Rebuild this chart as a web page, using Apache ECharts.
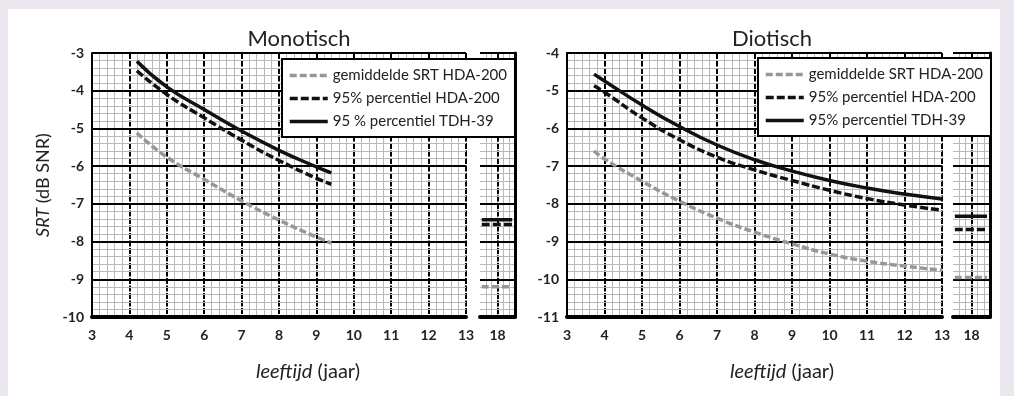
<!DOCTYPE html>
<html>
<head>
<meta charset="utf-8">
<script src="https://cdn.jsdelivr.net/npm/echarts@6/dist/echarts.min.js"></script>
<style>
  html, body { margin: 0; padding: 0; background: #ece7ef; }
  #chart { width: 1014px; height: 396px; }
</style>
</head>
<body>
<div id="chart"></div>
<script>
  // Monotisch (left panel)
  var monoAges = [4.2, 5, 6, 7, 8, 9, 9.4];
  var monoMeanHDA = [-5.12, -5.76, -6.35, -6.92, -7.43, -7.88, -8.04];
  var monoP95HDA = [-3.47, -4.1, -4.72, -5.31, -5.85, -6.32, -6.48];
  var monoP95TDH = [-3.22, -3.9, -4.5, -5.07, -5.58, -6.02, -6.18];

  // Diotisch (right panel)
  var dioAges = [3.72, 4, 5, 6, 7, 8, 9, 10, 11, 12, 13];
  var dioMeanHDA = [-6.6, -6.81, -7.4, -7.93, -8.38, -8.75, -9.06, -9.33, -9.52, -9.65, -9.76];
  var dioP95HDA = [-4.87, -5.04, -5.72, -6.3, -6.76, -7.1, -7.38, -7.64, -7.86, -8.03, -8.17];
  var dioP95TDH = [-4.56, -4.74, -5.38, -5.95, -6.44, -6.83, -7.13, -7.38, -7.58, -7.74, -7.87];

  // adults (18 jaar), drawn as short segments in the side panels
  var adultSpan = [17.55, 18.42];
  var monoAdult = { mean: -9.2, p95HDA: -7.55, p95TDH: -7.42 };
  var dioAdult = { mean: -9.95, p95HDA: -8.68, p95TDH: -8.33 };

  var monoNames = ['gemiddelde SRT HDA-200', '95% percentiel HDA-200', '95 % percentiel TDH-39'];
  var dioNames = ['gemiddelde SRT HDA-200', '95% percentiel HDA-200', '95% percentiel TDH-39'];

  var FONT = 'Lato';
  var TXT = '#222';
  var MINOR = '#b9b9b9';

  var styles = [
    { color: '#979797', width: 3.5, type: [7, 3] },
    { color: '#111', width: 3.5, type: [8, 3] },
    { color: '#111', width: 3.5, type: 'solid' }
  ];

  function pairs(xs, ys) {
    return xs.map(function(x, i) { return [x, ys[i]]; });
  }

  function lineSeries(name, style, data, xi, yi) {
    return {
      type: 'line',
      name: name,
      xAxisIndex: xi,
      yAxisIndex: yi,
      data: data,
      smooth: true,
      symbol: 'none',
      silent: true,
      lineStyle: { color: style.color, width: style.width, type: style.type },
      itemStyle: { color: style.color }
    };
  }

  var tickLabel = { color: TXT, fontFamily: FONT, fontSize: 14, fontWeight: 'bold' };

  function mainX(grid) {
    return {
      type: 'value', gridIndex: grid, min: 3, max: 13, interval: 1,
      axisLine: { show: true, onZero: false, lineStyle: { color: '#000', width: 4 } },
      axisTick: { show: false },
      axisLabel: Object.assign({ margin: 11 }, tickLabel),
      splitLine: { show: true, lineStyle: { color: '#000', width: 2, type: [6, 1.5] } },
      minorTick: { show: false, splitNumber: 5 },
      minorSplitLine: { show: true, lineStyle: { color: MINOR, width: 1 } }
    };
  }

  function sideX(grid) {
    return {
      type: 'value', gridIndex: grid, min: 17.5, max: 18.5, interval: 0.5, z: 1,
      axisLine: { show: true, onZero: false, lineStyle: { color: '#000', width: 4 } },
      axisTick: { show: false },
      axisLabel: Object.assign({
        margin: 11,
        formatter: function(v) { return v === 18 ? '18' : ''; }
      }, tickLabel),
      splitLine: { show: true, showMinLine: false, showMaxLine: false, lineStyle: { color: '#000', width: 2, type: [6, 1.5] } }
    };
  }

  function sideMinorX(grid) {
    return {
      type: 'value', gridIndex: grid, position: 'top', min: 17.4, max: 18.6, interval: 0.2,
      axisLine: { show: false }, axisTick: { show: false }, axisLabel: { show: false },
      splitLine: { show: true, showMinLine: false, showMaxLine: false, lineStyle: { color: MINOR, width: 1 } }
    };
  }

  function mainY(grid, min, max, name) {
    return {
      type: 'value', gridIndex: grid, min: min, max: max, interval: 1, z: 2,
      name: name || '',
      nameLocation: 'middle', nameRotate: 90, nameGap: 40,
      nameTextStyle: {
        fontFamily: FONT, fontSize: 18, color: TXT,
        rich: { i: { fontFamily: FONT, fontSize: 18, fontStyle: 'italic', color: TXT } }
      },
      axisLine: { show: true, lineStyle: { color: '#000', width: 2 } },
      axisTick: { show: false },
      axisLabel: Object.assign({ margin: 8 }, tickLabel),
      splitLine: { show: true, lineStyle: { color: '#000', width: 2 } },
      minorTick: { show: false, splitNumber: 5 },
      minorSplitLine: { show: true, lineStyle: { color: MINOR, width: 1 } }
    };
  }

  function sideY(grid, min, max) {
    var y = mainY(grid, min, max);
    y.axisLine = { show: false };
    y.axisLabel = { show: false };
    return y;
  }

  function borderY(grid, min, max) {
    return {
      type: 'value', gridIndex: grid, position: 'right', min: min, max: max, interval: 1, z: 3,
      axisLine: { show: true, lineStyle: { color: '#000', width: 3 } },
      axisTick: { show: false }, axisLabel: { show: false }, splitLine: { show: false }
    };
  }

  function legendFor(names, left, top) {
    return {
      data: names,
      orient: 'vertical',
      left: left, top: top,
      backgroundColor: '#fff',
      borderColor: '#000',
      borderWidth: 2,
      borderRadius: 0,
      padding: [9, 8, 8, 6],
      itemWidth: 38, itemHeight: 14, itemGap: 8,
      selectedMode: false,
      itemStyle: { opacity: 0 },
      lineStyle: { width: 3.5 },
      textStyle: { fontFamily: FONT, fontSize: 15, color: TXT }
    };
  }

  var series = [];
  var monoSets = [monoMeanHDA, monoP95HDA, monoP95TDH];
  var dioSets = [dioMeanHDA, dioP95HDA, dioP95TDH];
  var monoAdultVals = [monoAdult.mean, monoAdult.p95HDA, monoAdult.p95TDH];
  var dioAdultVals = [dioAdult.mean, dioAdult.p95HDA, dioAdult.p95TDH];

  for (var i = 0; i < 3; i++) {
    series.push(lineSeries(monoNames[i], styles[i], pairs(monoAges, monoSets[i]), 0, 0));
    series.push(lineSeries(monoNames[i], styles[i], pairs(adultSpan, [monoAdultVals[i], monoAdultVals[i]]), 1, 1));
    series.push(lineSeries(dioNames[i], styles[i], pairs(dioAges, dioSets[i]), 3, 3));
    series.push(lineSeries(dioNames[i], styles[i], pairs(adultSpan, [dioAdultVals[i], dioAdultVals[i]]), 4, 4));
  }

  var titleFont = { fontFamily: FONT, fontSize: 22, fontWeight: 'normal', color: TXT };
  var xNameFont = {
    fontFamily: FONT, fontSize: 20, fontWeight: 'normal', color: TXT,
    rich: { i: { fontFamily: FONT, fontSize: 20, fontStyle: 'italic', color: TXT } }
  };

  var option = {
    backgroundColor: '#ece7ef',
    animation: false,
    graphic: [{
      type: 'rect', z: -100, silent: true,
      shape: { x: 8, y: 9, width: 992, height: 387 },
      style: { fill: '#fff' }
    }],
    title: [
      { text: 'Monotisch', left: 294, top: 23, textAlign: 'center', textStyle: titleFont },
      { text: 'Diotisch', left: 767, top: 23, textAlign: 'center', textStyle: titleFont },
      { text: '{i|leeftijd} (jaar)', left: 303, top: 357, textAlign: 'center', textStyle: xNameFont },
      { text: '{i|leeftijd} (jaar)', left: 777, top: 357, textAlign: 'center', textStyle: xNameFont }
    ],
    legend: [
      legendFor(monoNames, 282, 59),
      legendFor(dioNames, 758, 58)
    ],
    grid: [
      { left: 92, top: 53, width: 374, height: 264 },
      { left: 480, top: 53, width: 35, height: 264 },
      { left: 567, top: 53, width: 375, height: 264 },
      { left: 953, top: 53, width: 37, height: 264 }
    ],
    xAxis: [
      mainX(0), sideX(1), sideMinorX(1),
      mainX(2), sideX(3), sideMinorX(3)
    ],
    yAxis: [
      mainY(0, -10, -3, '{i|SRT} (dB SNR)'), sideY(1, -10, -3), borderY(1, -10, -3),
      mainY(2, -11, -4), sideY(3, -11, -4), borderY(3, -11, -4)
    ],
    series: series
  };

  var chart = echarts.init(document.getElementById('chart'));
  chart.setOption(option);
</script>
</body>
</html>
